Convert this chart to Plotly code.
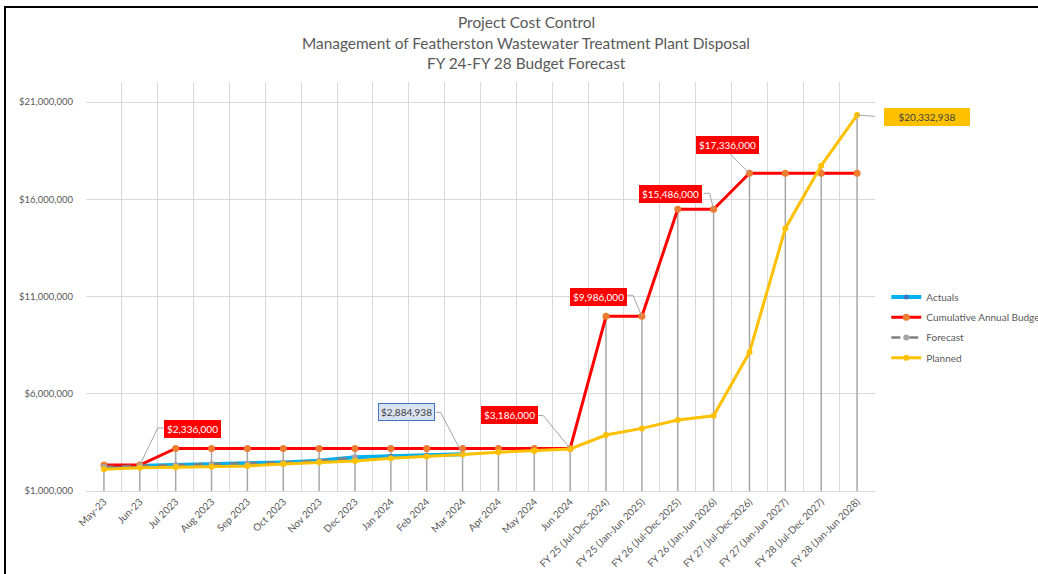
import plotly.graph_objects as go

categories = ["May-23", "Jun-23", "Jul 2023", "Aug 2023", "Sep 2023", "Oct 2023", "Nov 2023",
              "Dec 2023", "Jan 2024", "Feb 2024", "Mar 2024", "Apr 2024", "May 2024", "Jun 2024",
              "FY 25 (Jul-Dec 2024)", "FY 25 (Jan-Jun 2025)", "FY 26 (Jul-Dec 2025)",
              "FY 26 (Jan-Jun 2026)", "FY 27 (Jul-Dec 2026)", "FY 27 (Jan-Jun 2027)",
              "FY 28 (Jul-Dec 2027)", "FY 28 (Jan-Jun 2028)"]

actuals = [2250000, 2290000, 2340000, 2390000, 2420000, 2470000, 2550000, 2730000,
           2790000, 2840000, 2884938]
budget = [2336000, 2336000, 3186000, 3186000, 3186000, 3186000, 3186000, 3186000,
          3186000, 3186000, 3186000, 3186000, 3186000, 3186000, 9986000, 9986000,
          15486000, 15486000, 17336000, 17336000, 17336000, 17336000]
forecast = [2250000, 2290000, 2340000, 2390000, 2420000, 2470000, 2550000, 2730000]
planned = [2120000, 2200000, 2220000, 2250000, 2290000, 2390000, 2480000, 2540000,
           2680000, 2770000, 2880000, 2990000, 3060000, 3160000, 3880000, 4220000,
           4650000, 4870000, 8130000, 14500000, 17730000, 20332938]

y_min = 1000000
y_ticks = [1000000, 6000000, 11000000, 16000000, 21000000]
y_tick_text = ["$1,000,000", "$6,000,000", "$11,000,000", "$16,000,000", "$21,000,000"]

FONT = "Lato"
GREY_TXT = "#595959"
LEADER = "#A6A6A6"

fig = go.Figure()

# drop lines (from highest point of each category down to axis)
all_series = [actuals, budget, forecast, planned]
dx, dy = [], []
for i, c in enumerate(categories):
    vals = [s[i] for s in all_series if i < len(s)]
    dx += [c, c, None]
    dy += [y_min, max(vals), None]
fig.add_trace(go.Scatter(x=dx, y=dy, mode="lines", line=dict(color="#A6A6A6", width=1.5),
                         showlegend=False, hoverinfo="skip", legendgroup="drop"))

fig.add_trace(go.Scatter(x=categories[:len(actuals)], y=actuals, name="Actuals",
                         mode="lines+markers", line=dict(color="#00B0F0", width=4),
                         marker=dict(color="#4472C4", size=5), legendgroup="a"))
fig.add_trace(go.Scatter(x=categories, y=budget, name="Cumulative Annual Budget",
                         mode="lines+markers", line=dict(color="#FF0000", width=3),
                         marker=dict(color="#ED7D31", size=7), legendgroup="b"))
fig.add_trace(go.Scatter(x=categories[:len(forecast)], y=forecast, name="Forecast",
                         mode="lines+markers", line=dict(color="#808080", width=2.5, dash="dash"),
                         marker=dict(color="#A5A5A5", size=6), legendgroup="c"))
fig.add_trace(go.Scatter(x=categories, y=planned, name="Planned",
                         mode="lines+markers", line=dict(color="#FFC000", width=3),
                         marker=dict(color="#FFC000", size=6), legendgroup="d"))

def money(v):
    return "${:,.0f}".format(v)

# (category, value, label shift x/y in px, leader path in px relative to point, box width, colours)
labels = [
    (categories[1], budget[1], 53, 36.5, "M0,0 L18,37 L24,37", None, "#FF0000", "#FF0000", "white"),
    (categories[13], budget[13], -61, 33.5, "M0,0 L-27,33 L-32,33", None, "#FF0000", "#FF0000", "white"),
    (categories[15], budget[15], -43, 19.5, "M0,0 L-9,21 L-15,21", None, "#FF0000", "#FF0000", "white"),
    (categories[17], budget[17], -43, 15.5, "M0,0 L-4,16 L-10,16", None, "#FF0000", "#FF0000", "white"),
    (categories[18], budget[18], -21.5, 28.5, "M0,0 L-20,20", None, "#FF0000", "#FF0000", "white"),
    (categories[21], planned[21], 70, -2, "M0,0 L27,-2", 80, "#FFC000", "#FFC000", "#404040"),
    (categories[10], actuals[10], -56.5, 42, "M0,0 L-22,42 L-27,42", None, "#DAE3F3", "#4472C4", "#404040"),
]
for x, y, sx, sy, path, w, bg, bd, fc in labels:
    fig.add_shape(type="path", xref="x", yref="y", xsizemode="pixel", ysizemode="pixel",
                  xanchor=x, yanchor=y, path=path, line=dict(color=LEADER, width=1),
                  layer="above")
    fig.add_annotation(x=x, y=y, text=money(y), showarrow=False, xshift=sx, yshift=sy,
                       xanchor="center", yanchor="middle", width=w, align="center",
                       bgcolor=bg, bordercolor=bd, borderwidth=1, borderpad=2,
                       font=dict(family=FONT, size=10, color=fc))

# title lines
plot_top, plot_bot = 82, 491
def py(px):
    return (plot_bot - px) / (plot_bot - plot_top)
for txt, ypx in [("Project Cost Control", 22),
                 ("Management of Featherston Wastewater Treatment Plant Disposal", 43),
                 ("FY 24-FY 28 Budget Forecast", 63)]:
    fig.add_annotation(x=(526 - 86) / 789, y=py(ypx), xref="paper", yref="paper",
                       text=txt, showarrow=False, xanchor="center", yanchor="middle",
                       font=dict(family=FONT, size=15.4, color=GREY_TXT))

# outer frame
fig.add_shape(type="rect", xref="paper", yref="paper",
              x0=(5 - 86) / 789, x1=1.4, y0=-0.4, y1=py(7),
              line=dict(color="black", width=2), layer="above")

fig.update_layout(
    width=1038, height=574,
    margin=dict(l=86, r=163, t=82, b=83, autoexpand=False),
    paper_bgcolor="white", plot_bgcolor="white",
    font=dict(family=FONT, size=10, color=GREY_TXT),
    showlegend=True,
    legend=dict(x=1.0143, y=0.40, xanchor="left", yanchor="middle",
                traceorder="grouped", tracegroupgap=1.3,
                font=dict(family=FONT, size=10, color=GREY_TXT),
                bgcolor="rgba(0,0,0,0)", itemwidth=30),
    xaxis=dict(type="category", categoryorder="array", categoryarray=categories,
               range=[-0.5, len(categories) - 0.5], autorange=False,
               tickson="boundaries", showgrid=True, gridcolor="#D9D9D9", gridwidth=1,
               showline=True, linecolor="#D9D9D9", linewidth=1, ticks="",
               tickangle=-45, tickfont=dict(family=FONT, size=10, color=GREY_TXT),
               mirror=False, zeroline=False),
    yaxis=dict(range=[y_min, 22030000], autorange=False, tickvals=y_ticks, ticktext=y_tick_text,
               showgrid=True, gridcolor="#D9D9D9", gridwidth=1, showline=False,
               zeroline=False, ticks="", ticklabelstandoff=12,
               tickfont=dict(family=FONT, size=9.5, color=GREY_TXT)),
)

fig.write_html("out.html", config={"displayModeBar": False},
               post_script="document.body.style.margin='0';document.body.style.overflow='hidden';")
